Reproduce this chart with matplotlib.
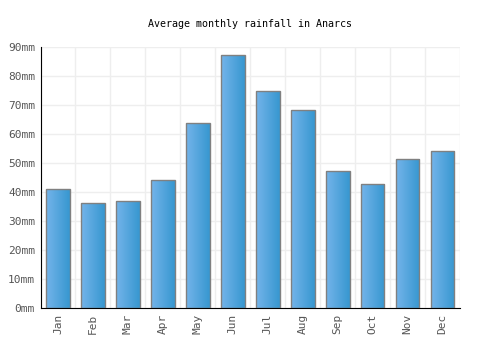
import numpy as np
import matplotlib
matplotlib.use("Agg")
import matplotlib.pyplot as plt
from matplotlib.colors import LinearSegmentedColormap

months = ["Jan", "Feb", "Mar", "Apr", "May", "Jun", "Jul", "Aug", "Sep", "Oct", "Nov", "Dec"]
rainfall = [40.9, 36.1, 36.7, 44.2, 63.8, 87.2, 74.8, 68.3, 47.3, 42.8, 51.4, 54.2]
yticks = [0, 10, 20, 30, 40, 50, 60, 70, 80, 90]

plt.rcParams['font.family'] = ['DejaVu Sans Mono']

fig = plt.figure(figsize=(5, 3.5), dpi=100)
ax = fig.add_axes([0.081, 0.12, 0.839, 0.747])

x = np.arange(len(months))
bars = ax.bar(x, rainfall, width=0.68, color='none', edgecolor='#808080', linewidth=1, zorder=3)

cmap = LinearSegmentedColormap.from_list('bar', ['#74b4ea', '#3797d0'])
grad = np.linspace(0, 1, 64).reshape(1, -1)
for b in bars:
    x0, y0 = b.get_x(), b.get_y()
    w, h = b.get_width(), b.get_height()
    im = ax.imshow(grad, cmap=cmap, aspect='auto', extent=[x0, x0 + w, y0, y0 + h], zorder=2)
    im.set_clip_path(b)

ax.set_xlim(-0.5, len(months) - 0.5)
ax.set_ylim(0, 90)
ax.set_xticks(x)
ax.set_xticklabels(months, rotation=90, fontsize=8, color='#555555')
ax.set_yticks(yticks)
ax.set_yticklabels([f"{v}mm" for v in yticks], fontsize=8, color='#555555')
ax.set_xticks(np.arange(-0.5, len(months), 1), minor=True)
ax.tick_params(axis='both', which='both', length=0, pad=4)
ax.grid(axis='y', color='#eeeeee', linewidth=1, zorder=0)
ax.grid(axis='x', which='minor', color='#eeeeee', linewidth=1, zorder=0)
ax.grid(axis='x', which='major', visible=False)
ax.set_axisbelow(True)

for s in ['top', 'right']:
    ax.spines[s].set_visible(False)
ax.spines['left'].set_color('black')
ax.spines['bottom'].set_color('black')

fig.suptitle("Average monthly rainfall in Anarcs", y=0.931, va='center', fontsize=7.2)

fig.savefig("out.png", dpi=100)
